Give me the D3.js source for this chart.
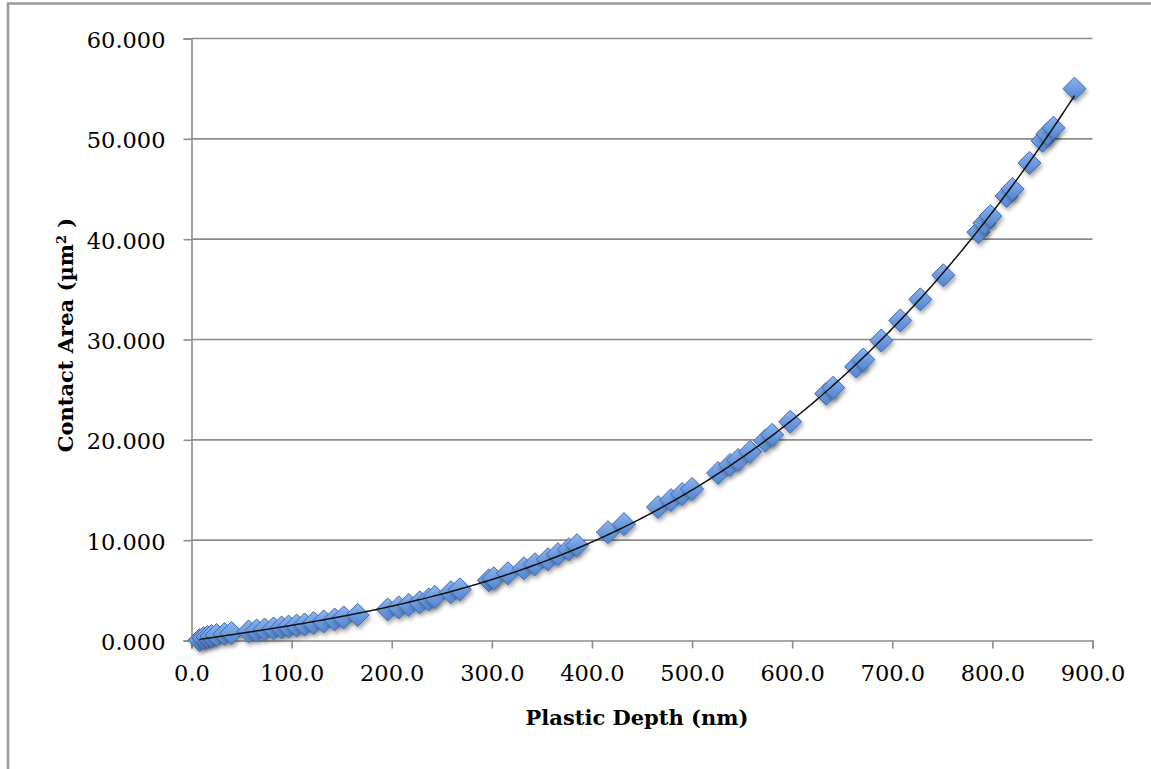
<!DOCTYPE html>
<html>
<head>
<meta charset="utf-8">
<script src="https://cdn.jsdelivr.net/npm/d3@7"></script>
<style>
  body { margin: 0; background: #fff; }
  svg { display: block; }
</style>
</head>
<body>
<div id="chart"></div>
<script>
// plastic depth (nm) vs contact area (um^2)
const depth = [8, 12, 16, 20, 25, 33, 40, 57, 65, 73, 82, 90, 97, 105, 113, 122, 132, 143, 152, 166,
  196, 207, 217, 228, 237, 243, 259, 268, 297, 302, 316, 332, 343, 356, 366, 377, 385,
  416, 432, 466, 479, 490, 500, 526, 538, 546, 558, 573, 580, 598, 634, 641, 664, 671,
  689, 708, 728, 751, 786, 792, 798, 814, 820, 837, 850, 855, 861, 882];
const area = [0.05, 0.25, 0.35, 0.45, 0.55, 0.65, 0.75, 0.9, 1.0, 1.1, 1.2, 1.3, 1.4, 1.5, 1.6, 1.75, 1.9, 2.1, 2.3, 2.55,
  3.1, 3.3, 3.55, 3.8, 4.1, 4.35, 4.8, 5.1, 6.0, 6.2, 6.7, 7.2, 7.6, 8.1, 8.6, 9.1, 9.5,
  10.8, 11.6, 13.3, 14.0, 14.6, 15.1, 16.7, 17.5, 18.0, 18.8, 19.9, 20.5, 21.8, 24.6, 25.2, 27.3, 28.0,
  29.9, 31.9, 34.0, 36.4, 40.7, 41.6, 42.3, 44.3, 45.0, 47.6, 49.8, 50.5, 51.1, 55.0];

const xTicks = [0, 100, 200, 300, 400, 500, 600, 700, 800, 900];
const yTicks = [0, 10, 20, 30, 40, 50, 60];

const W = 1151, H = 769;
const serif = "'DejaVu Serif', serif";

const x = d3.scaleLinear().domain([0, 900]).range([191.5, 1092.5]);
const y = d3.scaleLinear().domain([0, 60]).range([640.5, 38.5]);

const svg = d3.select("#chart").append("svg")
    .attr("width", W)
    .attr("height", H);

const defs = svg.append("defs");
const grad = defs.append("linearGradient")
    .attr("id", "mk").attr("x1", 0).attr("y1", 0).attr("x2", 0).attr("y2", 1);
grad.append("stop").attr("offset", "0%").attr("stop-color", "#8db4ee");
grad.append("stop").attr("offset", "100%").attr("stop-color", "#4f83d0");
const shadow = defs.append("filter").attr("id", "sh")
    .attr("x", "-50%").attr("y", "-50%").attr("width", "200%").attr("height", "200%");
shadow.append("feDropShadow")
    .attr("dx", 1.5).attr("dy", 3).attr("stdDeviation", 2.2)
    .attr("flood-color", "#000").attr("flood-opacity", 0.35);

// frame (only the left and top edges are in shot)
svg.append("path")
    .attr("d", `M8,${H} V3.5 H${W}`)
    .attr("fill", "none")
    .attr("stroke", "#9a9a9a")
    .attr("stroke-width", 2.5);

// gridlines
svg.append("g")
  .selectAll("line")
  .data(yTicks.filter(d => d > 0))
  .join("line")
    .attr("x1", x(0)).attr("x2", x(900))
    .attr("y1", d => y(d)).attr("y2", d => y(d))
    .attr("stroke", "#8c8c8c")
    .attr("stroke-width", 1.6);

// axes
const xAxis = svg.append("g")
    .attr("transform", `translate(0,${y(0)})`)
    .call(d3.axisBottom(x).tickValues(xTicks).tickFormat(d3.format(".1f")).tickSize(8).tickPadding(17));
const yAxis = svg.append("g")
    .attr("transform", `translate(${x(0)},0)`)
    .call(d3.axisLeft(y).tickValues(yTicks).tickFormat(d3.format(".3f")).tickSize(8).tickPadding(18));

[xAxis, yAxis].forEach(g => {
  g.select(".domain").attr("stroke", "#8c8c8c").attr("stroke-width", 1.6);
  g.selectAll(".tick line").attr("stroke", "#8c8c8c").attr("stroke-width", 1.6);
  g.selectAll(".tick text")
      .attr("fill", "#000")
      .style("font-family", serif)
      .style("font-size", "22.5px");
});
xAxis.selectAll(".tick text").attr("dy", "0.71em");
yAxis.selectAll(".tick text").attr("dy", "0.4em");

// markers
const pts = depth.map((d, i) => [d, area[i]]);
const r = 11.5;
svg.append("g")
  .selectAll("path")
  .data(pts)
  .join("path")
    .attr("transform", d => `translate(${x(d[0])},${y(d[1])})`)
    .attr("d", `M0,${-r} L${r},0 L0,${r} L${-r},0 Z`)
    .attr("fill", "url(#mk)")
    .attr("stroke", "#3d6cb0")
    .attr("stroke-width", 1)
    .attr("filter", "url(#sh)");

// polynomial (cubic) least-squares trendline through the points
function polyfit(xs, ys, deg) {
  const n = deg + 1;
  const A = Array.from({length: n}, () => new Array(n + 1).fill(0));
  xs.forEach((xv, k) => {
    for (let i = 0; i < n; i++) {
      for (let j = 0; j < n; j++) A[i][j] += Math.pow(xv, i + j);
      A[i][n] += ys[k] * Math.pow(xv, i);
    }
  });
  for (let i = 0; i < n; i++) {
    let p = i;
    for (let k = i + 1; k < n; k++) if (Math.abs(A[k][i]) > Math.abs(A[p][i])) p = k;
    [A[i], A[p]] = [A[p], A[i]];
    for (let k = 0; k < n; k++) {
      if (k === i) continue;
      const f = A[k][i] / A[i][i];
      for (let j = i; j <= n; j++) A[k][j] -= f * A[i][j];
    }
  }
  return A.map((row, i) => row[n] / row[i]);
}
const coef = polyfit(depth, area, 3);
const fit = v => coef.reduce((s, c, i) => s + c * Math.pow(v, i), 0);
const x0 = d3.min(depth), x1 = d3.max(depth);
const curve = d3.range(x0, x1, 2).concat([x1]).map(v => [v, fit(v)]);

svg.append("path")
    .datum(curve)
    .attr("fill", "none")
    .attr("stroke", "#111")
    .attr("stroke-width", 1.5)
    .attr("d", d3.line().x(d => x(d[0])).y(d => y(d[1])));

// axis titles
svg.append("text")
    .attr("x", 637)
    .attr("y", 725)
    .attr("text-anchor", "middle")
    .style("font-family", serif)
    .style("font-weight", "bold")
    .style("font-size", "21px")
    .attr("fill", "#000")
    .text("Plastic Depth (nm)");

const yt = svg.append("text")
    .attr("transform", "translate(73,335) rotate(-90)")
    .attr("text-anchor", "middle")
    .style("font-family", serif)
    .style("font-weight", "bold")
    .style("font-size", "21px")
    .attr("fill", "#000");
yt.append("tspan").text("Contact Area (µm");
yt.append("tspan").attr("baseline-shift", "super").style("font-size", "13px").text("2");
yt.append("tspan").text(" )");
</script>
</body>
</html>
